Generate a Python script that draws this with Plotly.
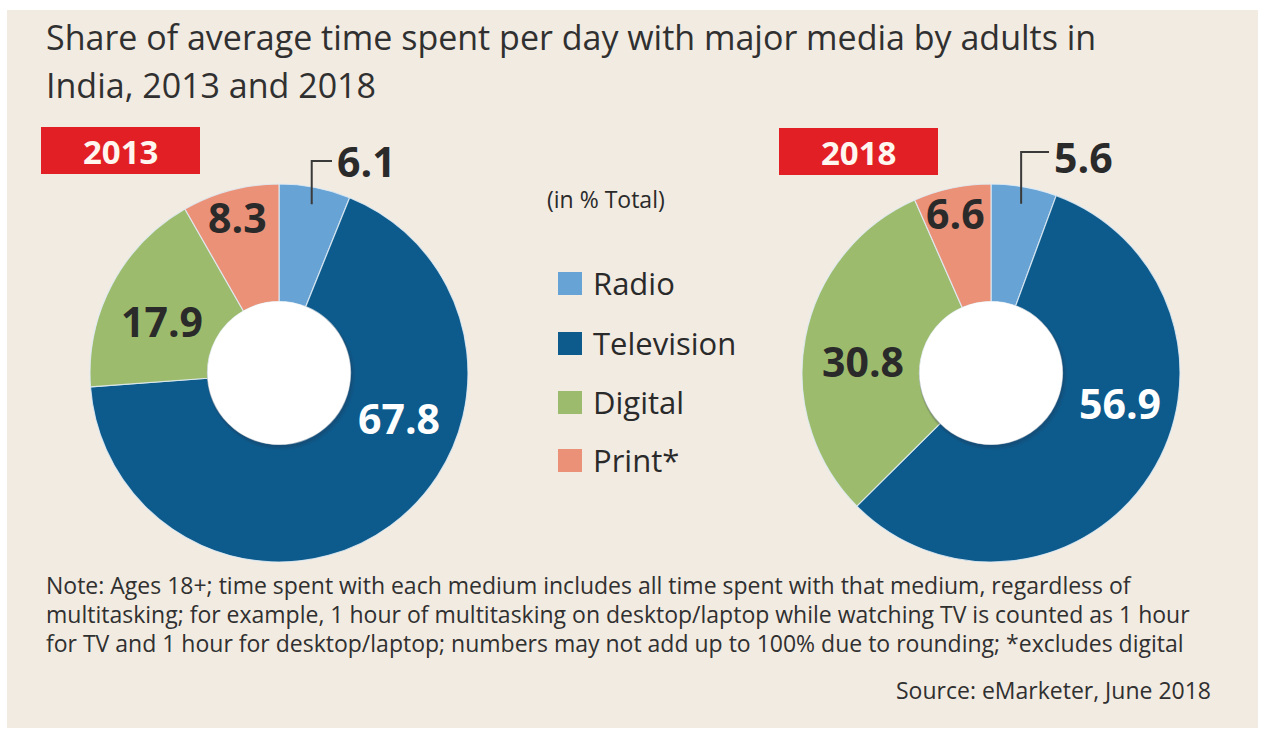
import math
import plotly.graph_objects as go

W, H = 1262, 729

# ---- data -------------------------------------------------------------
media = ["Radio", "Television", "Digital", "Print*"]
media_colors = ["#68a3d5", "#0d5b8d", "#9dbb6d", "#ea9178"]
years = ["2013", "2018"]
share_2013 = [6.1, 67.8, 17.9, 8.3]
share_2018 = [5.6, 56.9, 30.8, 6.6]

title_lines = [
    "Share of average time spent per day with major media by adults in",
    "India, 2013 and 2018",
]
unit_text = "(in % Total)"
note_lines = [
    "Note: Ages 18+; time spent with each medium includes all time spent with that medium, regardless of",
    "multitasking; for example, 1 hour of multitasking on desktop/laptop while watching TV is counted as 1 hour",
    "for TV and 1 hour for desktop/laptop; numbers may not add up to 100% due to rounding; *excludes digital",
]
source_text = "Source: eMarketer, June 2018"

# ---- layout helpers (pixel -> paper) -----------------------------------
def px(x):
    return x / W


def py(y):
    return 1 - y / H


BG = "#f2ebe2"
RED = "#e31f26"
INK = "#2a2a2a"
TEXT = "#303030"
FONT = "Open Sans"

R_OUT = 189
R_HOLE = 71.5
donuts = [
    dict(year=years[0], values=share_2013, cx=279, cy=373,
         box=(41, 127, 200, 174),
         labels=[(335, 161, "left"), (399, 418, "center"),
                 (162, 321, "center"), (237, 217, "center")],
         bracket_y=161),
    dict(year=years[1], values=share_2018, cx=991, cy=373,
         box=(779, 128, 938, 175),
         labels=[(1052, 157, "left"), (1120, 403, "center"),
                 (863, 361, "center"), (955, 213, "center")],
         bracket_y=152),
]
label_colors = [INK, "white", INK, INK]

fig = go.Figure()
shapes = []
annotations = []

# beige panel
shapes.append(dict(type="rect", xref="paper", yref="paper",
                   x0=px(7), x1=px(1258), y0=py(728), y1=py(10),
                   fillcolor=BG, line=dict(width=0), layer="below"))

for d in donuts:
    cx, cy = d["cx"], d["cy"]
    fig.add_trace(go.Pie(
        labels=media, values=d["values"], sort=False,
        direction="clockwise", rotation=0, hole=R_HOLE / R_OUT,
        marker=dict(colors=media_colors,
                    line=dict(color="rgba(225,236,244,0.85)", width=1.2)),
        textinfo="none", hoverinfo="label+value", showlegend=False,
        domain=dict(x=[px(cx - R_OUT), px(cx + R_OUT)],
                    y=[py(cy + R_OUT), py(cy - R_OUT)]),
    ))

    # white centre with a soft shadow
    for dx, dy, extra, col in [(2, 3, 2.5, "rgba(40,50,70,0.10)"),
                               (1, 2, 1.2, "rgba(40,50,70,0.18)")]:
        shapes.append(dict(type="circle", xref="paper", yref="paper",
                           x0=px(cx - R_HOLE - extra + dx), x1=px(cx + R_HOLE + extra + dx),
                           y0=py(cy + R_HOLE + extra + dy), y1=py(cy - R_HOLE - extra + dy),
                           fillcolor=col, line=dict(width=0), layer="above"))
    shapes.append(dict(type="circle", xref="paper", yref="paper",
                       x0=px(cx - R_HOLE), x1=px(cx + R_HOLE),
                       y0=py(cy + R_HOLE), y1=py(cy - R_HOLE),
                       fillcolor="white", line=dict(width=0), layer="above"))

    # year tag
    x0, y0, x1, y1 = d["box"]
    shapes.append(dict(type="rect", xref="paper", yref="paper",
                       x0=px(x0), x1=px(x1), y0=py(y1), y1=py(y0),
                       fillcolor=RED, line=dict(width=0)))
    annotations.append(dict(text=f"<b>{d['year']}</b>", x=px((x0 + x1) / 2),
                            y=py((y0 + y1) / 2 + 1), xref="paper", yref="paper",
                            showarrow=False, xanchor="center", yanchor="middle",
                            font=dict(family=FONT, size=33, color="#fff6f0")))

    # value labels
    for i, v in enumerate(d["values"]):
        lx, ly, anchor = d["labels"][i]
        annotations.append(dict(text=f"<b>{v}</b>", x=px(lx), y=py(ly),
                                xref="paper", yref="paper", showarrow=False,
                                xanchor=anchor, yanchor="middle",
                                font=dict(family=FONT, size=41, color=label_colors[i])))

    # leader from the middle of the first slice to its label
    mid_angle = math.radians(d["values"][0] / sum(d["values"]) * 180)
    sx = cx + 172 * math.sin(mid_angle)
    sy = cy - 172 * math.cos(mid_angle)
    by = d["bracket_y"]
    ex = d["labels"][0][0] - 3
    shapes.append(dict(type="path", xref="paper", yref="paper",
                       path=f"M {px(sx)},{py(sy)} L {px(sx)},{py(by)} L {px(ex)},{py(by)}",
                       line=dict(color="#3a3a3a", width=2)))

# title
for i, line in enumerate(title_lines):
    annotations.append(dict(text=line, x=px(44), y=py(37 + 48 * i), xref="paper", yref="paper",
                            showarrow=False, xanchor="left", yanchor="middle",
                            font=dict(family=FONT, size=34, color=TEXT)))

# unit note
annotations.append(dict(text=unit_text, x=px(606), y=py(199), xref="paper", yref="paper",
                        showarrow=False, xanchor="center", yanchor="middle",
                        font=dict(family=FONT, size=23, color=INK)))

# legend
legend_rows = [283, 343, 402, 460]
for name, col, ry in zip(media, media_colors, legend_rows):
    shapes.append(dict(type="rect", xref="paper", yref="paper",
                       x0=px(558), x1=px(582), y0=py(ry + 12), y1=py(ry - 11),
                       fillcolor=col, line=dict(width=0)))
    annotations.append(dict(text=name, x=px(591), y=py(ry), xref="paper", yref="paper",
                            showarrow=False, xanchor="left", yanchor="middle",
                            font=dict(family=FONT, size=31, color=INK)))

# footnote and source
for i, line in enumerate(note_lines):
    annotations.append(dict(text=line, x=px(44), y=py(585 + 29 * i), xref="paper", yref="paper",
                            showarrow=False, xanchor="left", yanchor="middle",
                            font=dict(family=FONT, size=23, color=TEXT)))
annotations.append(dict(text=source_text, x=px(1213), y=py(690), xref="paper", yref="paper",
                        showarrow=False, xanchor="right", yanchor="middle",
                        font=dict(family=FONT, size=23, color=TEXT)))

fig.update_layout(
    width=W, height=H, margin=dict(l=0, r=0, t=0, b=0),
    paper_bgcolor="white", plot_bgcolor="white",
    shapes=shapes, annotations=annotations,
    xaxis=dict(visible=False), yaxis=dict(visible=False),
    showlegend=False,
)

fig.write_html("out.html")
